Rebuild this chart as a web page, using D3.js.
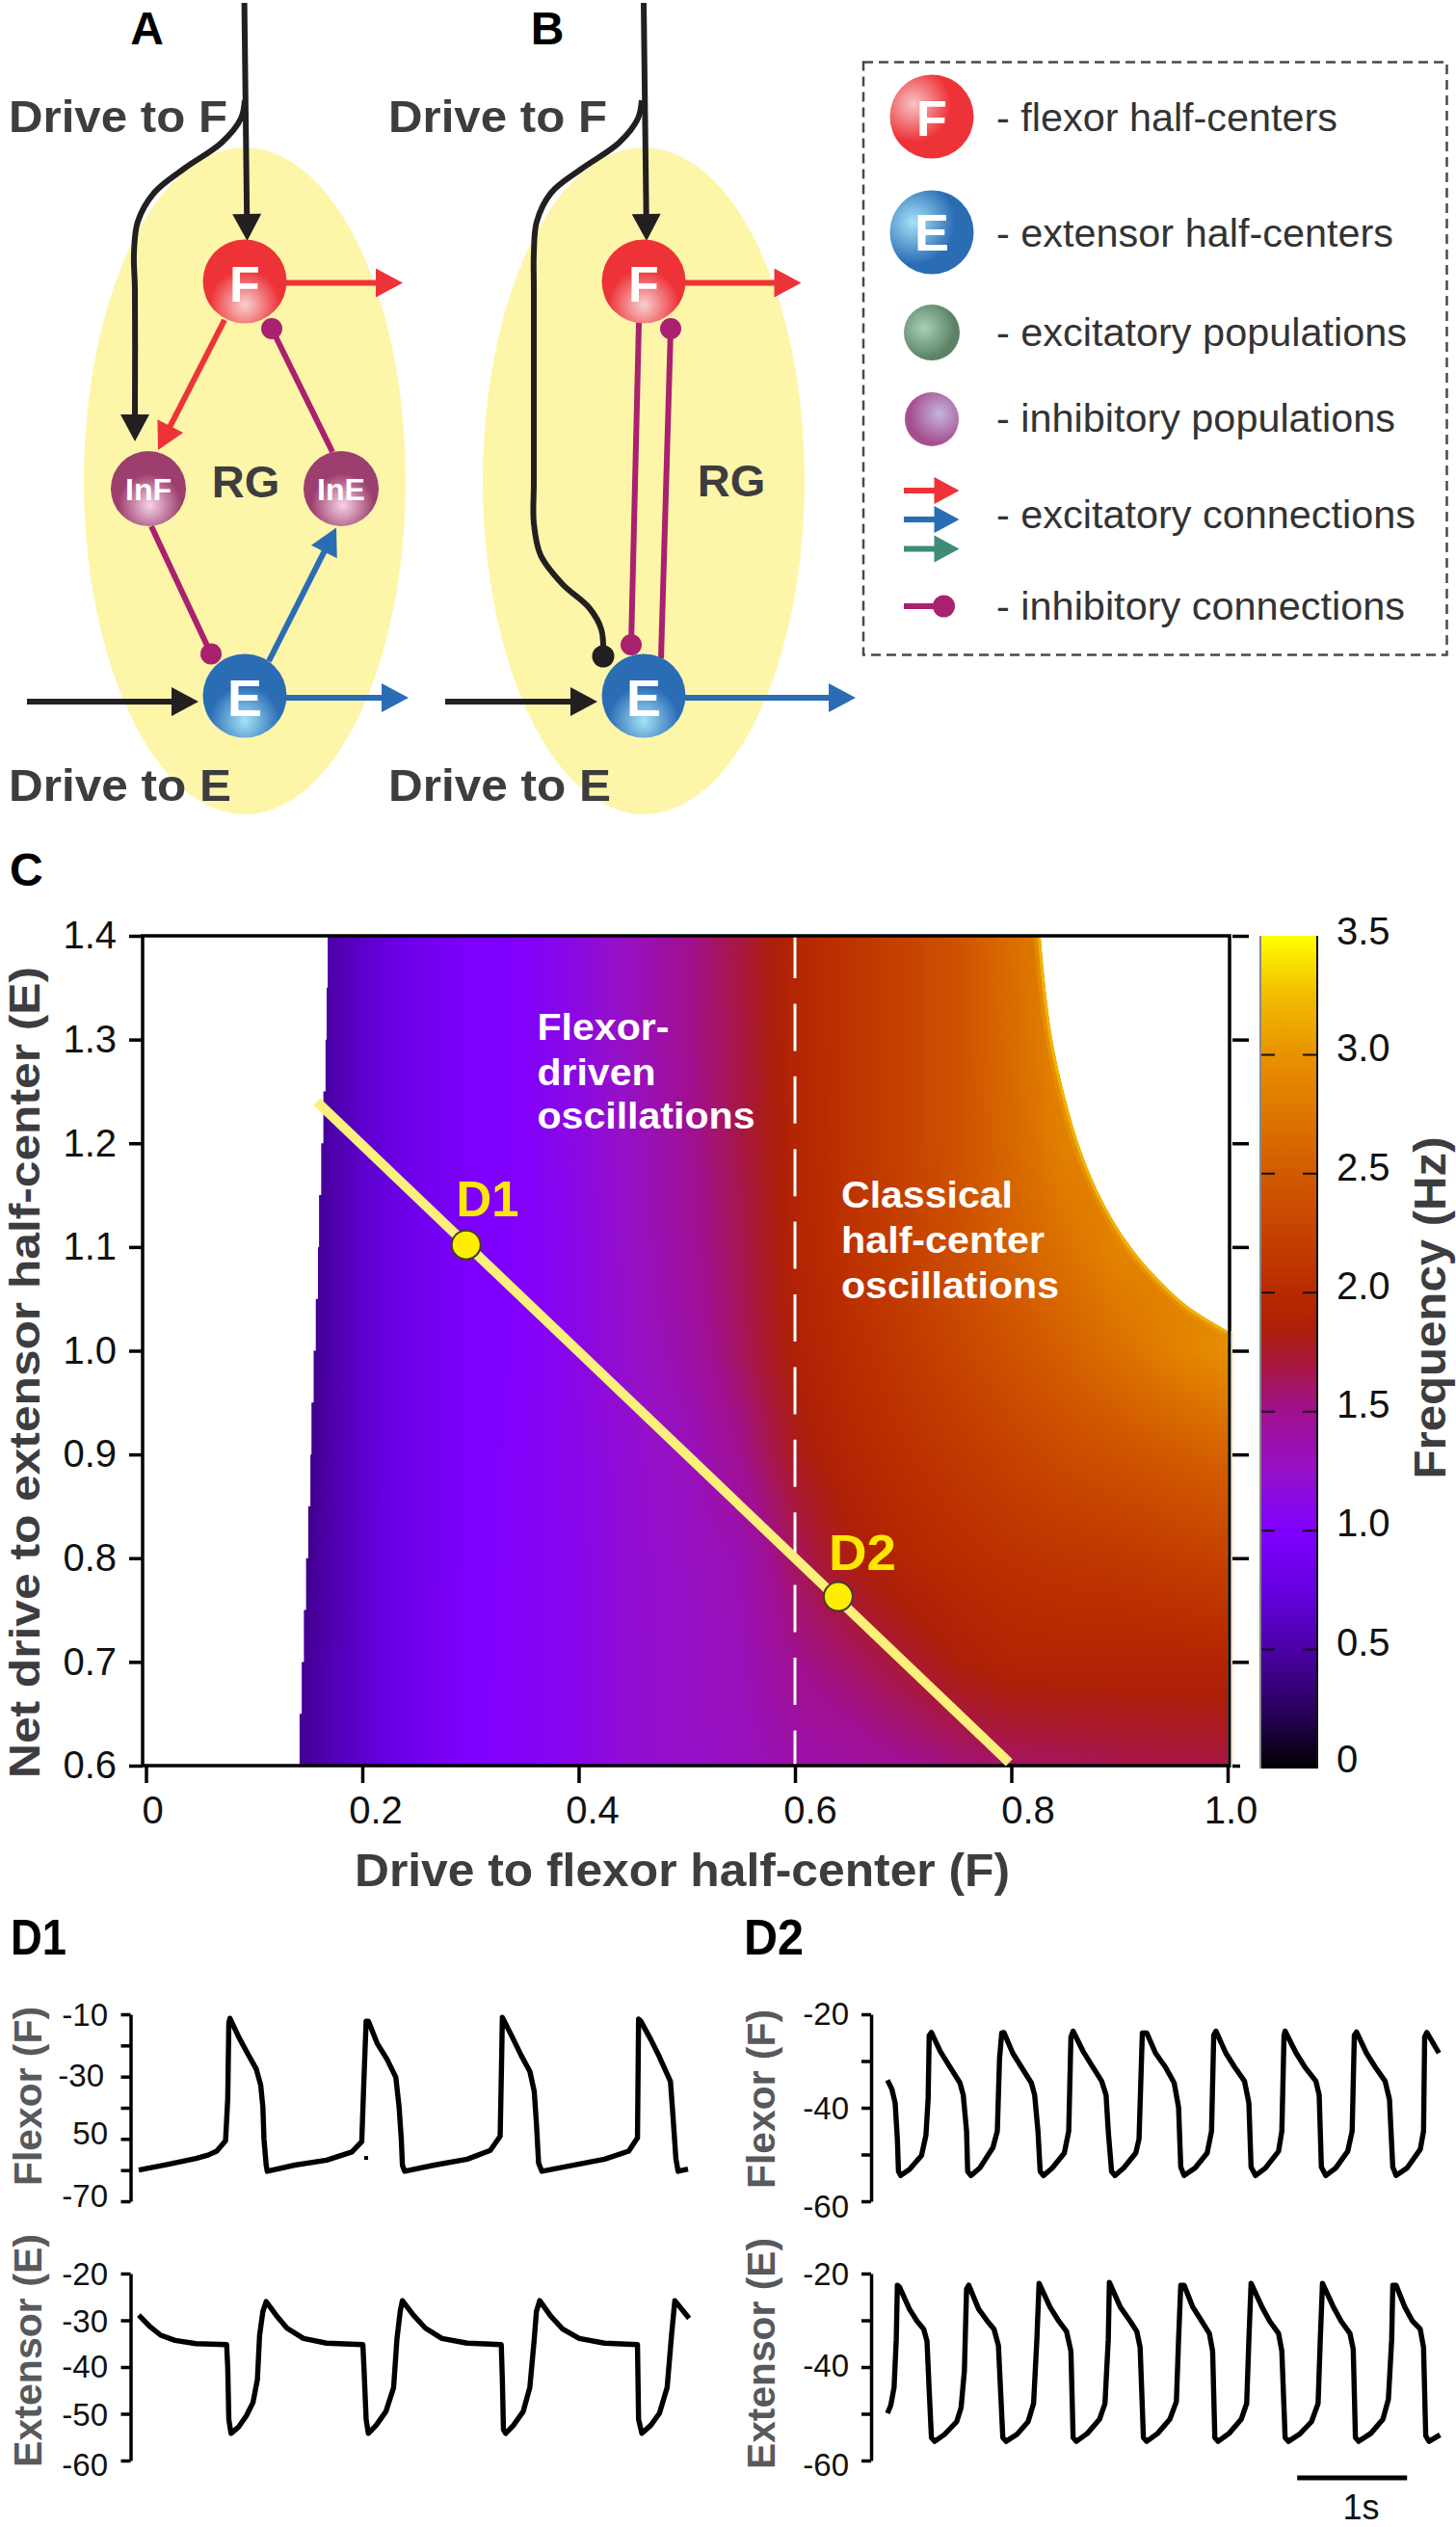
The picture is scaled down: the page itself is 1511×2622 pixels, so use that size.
<!DOCTYPE html>
<html>
<head>
<meta charset="utf-8">
<script src="https://cdn.jsdelivr.net/npm/d3@7"></script>
<style>
  body { margin: 0; background: #fff; }
  svg { display: block; font-family: "Liberation Sans", Arial, sans-serif; }
</style>
</head>
<body>
<svg id="chart" width="1511" height="2622"></svg>
<script>
// panel C: frequency (Hz), rows top to bottom, null = no oscillation
const freqX = [0.15, 0.20, 0.25, 0.30, 0.35, 0.40, 0.45, 0.50, 0.55, 0.60, 0.65, 0.70, 0.75, 0.80, 0.85, 0.90, 0.95, 1.00];
const freqY = [1.4, 1.3, 1.2, 1.1, 1.0, 0.9, 0.8, 0.7, 0.6];
const freqGrid = [
  [0.40, 0.66, 0.85, 0.97, 1.02, 1.14, 1.30, 1.50, 1.70, 1.95, 2.10, 2.25, 2.42, 2.68, 2.90, null, null, null],
  [0.40, 0.66, 0.85, 0.97, 1.02, 1.14, 1.30, 1.50, 1.68, 1.94, 2.10, 2.25, 2.42, 2.65, 2.90, null, null, null],
  [0.40, 0.66, 0.85, 0.97, 1.02, 1.13, 1.28, 1.47, 1.68, 1.93, 2.10, 2.25, 2.42, 2.62, 2.85, null, null, null],
  [0.40, 0.66, 0.85, 0.97, 1.02, 1.12, 1.27, 1.45, 1.65, 1.92, 2.08, 2.22, 2.38, 2.55, 2.72, 2.88, null, null],
  [0.40, 0.66, 0.85, 0.97, 1.02, 1.12, 1.25, 1.40, 1.62, 1.88, 2.02, 2.15, 2.28, 2.42, 2.55, 2.70, 2.85, 2.97],
  [0.40, 0.67, 0.85, 0.98, 1.03, 1.11, 1.21, 1.30, 1.50, 1.78, 1.95, 2.05, 2.15, 2.25, 2.35, 2.42, 2.50, 2.58],
  [0.42, 0.68, 0.85, 0.98, 1.03, 1.10, 1.20, 1.27, 1.35, 1.62, 1.82, 1.95, 2.02, 2.08, 2.12, 2.15, 2.20, 2.25],
  [0.45, 0.68, 0.85, 0.99, 1.03, 1.10, 1.20, 1.26, 1.32, 1.50, 1.60, 1.72, 1.85, 1.92, 1.93, 1.92, 1.92, 1.93],
  [0.45, 0.68, 0.85, 1.00, 1.03, 1.10, 1.20, 1.25, 1.30, 1.38, 1.42, 1.48, 1.55, 1.60, 1.62, 1.65, 1.67, 1.68]
];
// edges of the oscillating region
const leftEdgeY = [1.4, 1.35, 1.3, 1.25, 1.2, 1.15, 1.1, 1.05, 1.0, 0.95, 0.9, 0.85, 0.8, 0.75, 0.7, 0.65, 0.6];
const leftEdgeX = [0.170, 0.168, 0.167, 0.166, 0.164, 0.162, 0.160, 0.159, 0.157, 0.155, 0.153, 0.152, 0.150, 0.148, 0.146, 0.144, 0.142];
const rightEdgeX = [1.0, 0.967, 0.934, 0.905, 0.884, 0.865, 0.850, 0.838, 0.831, 0.827];
const rightEdgeY = [1.019, 1.040, 1.071, 1.108, 1.145, 1.191, 1.243, 1.299, 1.354, 1.40];

const colorStops = [0, 0.25, 0.5, 0.75, 1.0, 1.25, 1.5, 1.7, 1.85, 2.0, 2.5, 3.0, 3.25, 3.5];
const colorValues = ['#000000', '#2a0060', '#4b00a6', '#6600e0', '#8000ff', '#9510c8', '#a01090', '#a8183c', '#ad1f08', '#b82a00', '#d25a00', '#e89200', '#f2bc00', '#ffff00'];

const mapXTicks = [0, 0.2, 0.4, 0.6, 0.8, 1.0];
const mapXLabels = ['0', '0.2', '0.4', '0.6', '0.8', '1.0'];
const mapYTicks = [1.4, 1.3, 1.2, 1.1, 1.0, 0.9, 0.8, 0.7, 0.6];
const barTicks = [3.5, 3.0, 2.5, 2.0, 1.5, 1.0, 0.5, 0];
const barLabels = ['3.5', '3.0', '2.5', '2.0', '1.5', '1.0', '0.5', '0'];

const diagonalX = [0.158, 0.798];
const diagonalY = [1.24, 0.603];
const pointNames = ['D1', 'D2'];
const pointX = [0.296, 0.640];
const pointY = [1.102, 0.763];

// panels D: time in s, voltage in mV
const d1FlexorT = [0, 0.27, 0.52, 0.63, 0.71, 0.79, 0.81, 0.82, 0.83, 0.91, 0.99, 1.07, 1.11, 1.13, 1.14, 1.16, 1.17, 1.42, 1.71, 1.94, 2.03, 2.05, 2.07, 2.09, 2.17, 2.26, 2.34, 2.37, 2.39, 2.40, 2.42, 2.69, 2.99, 3.20, 3.29, 3.30, 3.31, 3.40, 3.48, 3.56, 3.60, 3.62, 3.64, 3.67, 3.92, 4.24, 4.46, 4.54, 4.55, 4.57, 4.66, 4.74, 4.84, 4.86, 4.89, 4.91, 5.00];
const d1FlexorV = [-60.0, -58.1, -56.3, -55.2, -53.9, -50.6, -37.2, -12.8, -11.3, -17.3, -22.5, -27.6, -32.7, -39.8, -50.1, -58.4, -60.4, -58.4, -56.8, -54.2, -50.9, -30.8, -12.2, -12.2, -19.3, -24.4, -30.2, -39.8, -50.1, -58.4, -60.4, -58.4, -56.5, -53.7, -49.1, -30.8, -11.0, -17.3, -23.1, -28.3, -34.7, -45.0, -57.8, -60.4, -58.7, -56.5, -53.9, -49.7, -11.5, -12.2, -18.0, -23.7, -31.5, -41.1, -56.5, -60.4, -59.7];
const d1ExtensorT = [0, 0.10, 0.20, 0.33, 0.52, 0.80, 0.81, 0.82, 0.84, 0.91, 0.98, 1.04, 1.08, 1.10, 1.13, 1.16, 1.25, 1.35, 1.50, 1.71, 2.04, 2.05, 2.07, 2.09, 2.16, 2.25, 2.32, 2.35, 2.38, 2.40, 2.50, 2.61, 2.76, 2.99, 3.30, 3.31, 3.32, 3.34, 3.41, 3.50, 3.56, 3.60, 3.62, 3.65, 3.75, 3.86, 4.01, 4.24, 4.54, 4.55, 4.58, 4.66, 4.74, 4.81, 4.85, 4.88, 5.01];
const d1ExtensorV = [-28.9, -31.3, -33.2, -34.3, -35.0, -35.2, -40.1, -51.2, -54.2, -52.8, -50.4, -47.6, -42.7, -33.2, -28.1, -26.0, -28.9, -31.7, -33.9, -34.9, -35.2, -40.1, -51.2, -54.2, -52.5, -49.5, -44.4, -34.1, -28.1, -25.8, -28.9, -31.7, -33.9, -34.9, -35.2, -42.7, -53.4, -54.2, -52.5, -49.5, -44.4, -34.1, -28.1, -25.8, -29.1, -31.9, -33.9, -34.9, -35.2, -51.2, -54.2, -52.5, -49.9, -44.4, -33.2, -25.8, -29.6];
const d2FlexorT = [0, 0.04, 0.07, 0.09, 0.10, 0.12, 0.20, 0.31, 0.35, 0.37, 0.38, 0.40, 0.48, 0.57, 0.66, 0.69, 0.72, 0.73, 0.76, 0.84, 0.96, 1.00, 1.02, 1.04, 1.06, 1.14, 1.23, 1.31, 1.34, 1.37, 1.39, 1.42, 1.50, 1.61, 1.65, 1.67, 1.69, 1.78, 1.87, 1.95, 1.99, 2.01, 2.04, 2.07, 2.15, 2.26, 2.29, 2.32, 2.36, 2.44, 2.53, 2.61, 2.65, 2.67, 2.70, 2.80, 2.91, 2.95, 2.97, 2.99, 3.08, 3.16, 3.25, 3.29, 3.31, 3.35, 3.44, 3.56, 3.59, 3.61, 3.62, 3.72, 3.80, 3.90, 3.93, 3.95, 3.99, 4.08, 4.19, 4.23, 4.25, 4.27, 4.36, 4.44, 4.53, 4.57, 4.60, 4.63, 4.73, 4.85, 4.88, 4.89, 4.91, 5.02];
const d2FlexorV = [-34.1, -36.0, -39.0, -46.7, -53.6, -54.5, -53.2, -50.2, -45.9, -38.2, -24.5, -23.9, -27.9, -31.3, -34.7, -37.3, -45.0, -53.6, -54.5, -52.9, -48.5, -45.0, -29.6, -24.0, -23.9, -28.3, -31.7, -34.7, -37.3, -45.0, -53.6, -54.5, -52.9, -49.7, -45.0, -24.9, -23.6, -27.9, -31.3, -34.3, -37.3, -45.0, -53.6, -54.5, -52.9, -49.7, -46.7, -24.0, -24.0, -28.3, -31.3, -34.7, -39.9, -52.7, -54.5, -52.9, -49.7, -45.0, -24.5, -23.6, -28.3, -31.3, -34.3, -39.0, -52.7, -54.5, -52.9, -49.3, -45.0, -24.5, -23.6, -28.3, -31.3, -34.3, -37.3, -52.7, -54.5, -52.9, -49.3, -45.0, -24.5, -23.8, -28.3, -31.3, -34.3, -38.2, -52.7, -54.5, -52.9, -48.9, -45.0, -24.9, -23.9, -28.3];
const d2ExtensorT = [0, 0.03, 0.06, 0.08, 0.09, 0.11, 0.20, 0.27, 0.33, 0.36, 0.38, 0.40, 0.43, 0.52, 0.63, 0.67, 0.70, 0.72, 0.74, 0.83, 0.91, 0.97, 1.01, 1.03, 1.05, 1.08, 1.18, 1.28, 1.33, 1.36, 1.38, 1.48, 1.56, 1.63, 1.67, 1.69, 1.72, 1.82, 1.93, 1.98, 2.01, 2.02, 2.12, 2.21, 2.27, 2.30, 2.33, 2.36, 2.46, 2.57, 2.63, 2.65, 2.67, 2.70, 2.78, 2.85, 2.93, 2.96, 2.98, 3.01, 3.11, 3.22, 3.27, 3.29, 3.31, 3.41, 3.48, 3.56, 3.59, 3.62, 3.65, 3.75, 3.86, 3.92, 3.94, 3.96, 4.06, 4.13, 4.21, 4.24, 4.26, 4.29, 4.40, 4.51, 4.56, 4.59, 4.60, 4.63, 4.71, 4.78, 4.85, 4.88, 4.90, 4.93, 5.03];
const d2ExtensorV = [-49.9, -48.2, -44.4, -34.1, -22.5, -22.9, -27.6, -30.2, -31.9, -34.5, -45.2, -55.1, -55.9, -54.4, -51.7, -48.7, -40.9, -23.3, -22.5, -27.6, -30.2, -31.9, -35.4, -45.2, -55.1, -55.9, -54.4, -51.7, -47.8, -34.1, -22.1, -27.2, -30.2, -32.4, -36.6, -55.1, -55.9, -54.2, -51.2, -47.8, -34.1, -21.9, -27.2, -30.2, -32.4, -35.8, -55.1, -55.9, -54.2, -51.2, -47.4, -34.1, -22.5, -22.5, -27.2, -29.8, -32.8, -36.6, -55.1, -55.9, -54.2, -51.2, -47.8, -34.1, -22.1, -27.2, -30.2, -32.8, -36.6, -55.1, -55.9, -54.4, -51.7, -47.8, -34.1, -22.1, -27.2, -30.2, -32.8, -36.2, -55.1, -55.9, -54.2, -51.2, -46.9, -34.1, -22.5, -22.5, -27.2, -30.2, -31.9, -35.8, -54.7, -55.9, -54.5];

const legendLabels = ['- flexor half-centers', '- extensor half-centers', '- excitatory populations', '- inhibitory populations', '- excitatory connections', '- inhibitory connections'];

const RED = '#ee3338', BLUE = '#2a6db5', TEAL = '#3f8a78', MAGENTA = '#a9216f', BLACK = '#231f20', GREY = '#3d3d3f';

const svg = d3.select('#chart');
const defs = svg.append('defs');

function sphereGradient(id, cx, cy, r, light, base) {
  const g = defs.append('radialGradient').attr('id', id)
    .attr('cx', cx).attr('cy', cy).attr('r', r);
  g.append('stop').attr('offset', '0%').attr('stop-color', light);
  g.append('stop').attr('offset', '100%').attr('stop-color', base);
}
sphereGradient('gF', 0.5, 0.78, 0.42, '#f8d0d0', RED);
sphereGradient('gE', 0.5, 0.8, 0.42, '#a6e2f8', BLUE);
sphereGradient('gI', 0.52, 0.72, 0.42, '#f8d2e6', '#9c3f6e');
sphereGradient('gLF', 0.28, 0.35, 0.45, '#f6c4c4', RED);
sphereGradient('gLE', 0.28, 0.38, 0.5, '#a6e2f8', BLUE);
sphereGradient('gLG', 0.36, 0.42, 0.55, '#a6d2b6', '#5c8265');
sphereGradient('gLP', 0.64, 0.4, 0.55, '#c3b6dd', '#a64f90');

function label(x, y, str, size, opts = {}) {
  const t = svg.append('text').attr('x', x).attr('y', y).text(str)
    .attr('font-size', size)
    .attr('font-weight', opts.weight || 'bold')
    .attr('fill', opts.fill || GREY)
    .attr('text-anchor', opts.anchor || 'start');
  if (opts.length) t.attr('textLength', opts.length).attr('lengthAdjust', 'spacingAndGlyphs');
  if (opts.rotate) t.attr('transform', `rotate(-90,${x},${y})`);
  return t;
}

function node(cx, cy, r, grad, str, size, base) {
  svg.append('circle').attr('cx', cx).attr('cy', cy).attr('r', r).attr('fill', `url(#${grad})`);
  if (str) label(cx, base, str, size, { fill: '#fff', anchor: 'middle' });
}

const wire = d3.line().curve(d3.curveCatmullRom.alpha(0.5));

// line through pts, ending in a triangular head at the last point
function arrow(pts, color, headLen = 28, headHalf = 15) {
  const a = pts[pts.length - 2], b = pts[pts.length - 1];
  const len = Math.hypot(b[0] - a[0], b[1] - a[1]);
  const ux = (b[0] - a[0]) / len, uy = (b[1] - a[1]) / len;
  const bx = b[0] - ux * headLen, by = b[1] - uy * headLen;
  svg.append('path').attr('d', wire([...pts.slice(0, -1), [bx + ux, by + uy]]))
    .attr('fill', 'none').attr('stroke', color).attr('stroke-width', 6);
  svg.append('path')
    .attr('d', `M${b}L${bx - uy * headHalf},${by + ux * headHalf}L${bx + uy * headHalf},${by - ux * headHalf}Z`)
    .attr('fill', color);
}

function inhibit(pts, color, r = 11) {
  const end = pts[pts.length - 1];
  svg.append('path').attr('d', wire(pts)).attr('fill', 'none').attr('stroke', color).attr('stroke-width', 6);
  svg.append('circle').attr('cx', end[0]).attr('cy', end[1]).attr('r', r).attr('fill', color);
}

// ---- panels A and B
[254, 668].forEach(cx => {
  svg.append('ellipse').attr('cx', cx).attr('cy', 499).attr('rx', 167).attr('ry', 346).attr('fill', '#fdf6a9');
});

label(152.5, 46, 'A', 48, { fill: '#000', anchor: 'middle' });
label(568, 46, 'B', 48, { fill: '#000', anchor: 'middle' });
label(9, 137, 'Drive to F', 47, { length: 227 });
label(9, 831, 'Drive to E', 47, { length: 231 });
label(403, 137, 'Drive to F', 47, { length: 227 });
label(403, 831, 'Drive to E', 47, { length: 231 });
label(255, 515.5, 'RG', 47, { anchor: 'middle' });
label(759, 514.5, 'RG', 47, { anchor: 'middle' });

// A
arrow([[253.6, 3], [256.5, 250]], BLACK);
arrow([[254, 104], [250, 123], [230, 148], [191, 175], [160, 200], [143, 230], [139, 263], [140, 300], [140, 458]], BLACK);
arrow([[297, 293.5], [418, 293.5]], RED);
arrow([[233, 332], [164, 467]], RED);
inhibit([[345, 469], [282, 341]], MAGENTA);
inhibit([[157, 546], [219, 678.5]], MAGENTA);
arrow([[279, 686], [349, 547.5]], BLUE);
arrow([[297, 724], [424, 724]], BLUE);
arrow([[28, 728], [206, 728]], BLACK);
node(254, 292, 43.5, 'gF', 'F', 52, 312.5);
node(254, 722, 43.5, 'gE', 'E', 54, 743);
node(154, 507, 39, 'gI', 'InF', 32, 519);
node(354, 507, 39, 'gI', 'InE', 32, 519);

// B
arrow([[668, 3], [671, 250]], BLACK);
inhibit([[666, 104], [662, 123], [642.5, 148], [603, 175.5], [572, 200], [557, 230], [554, 263], [554, 300], [554, 500], [554, 543], [561, 576], [583.6, 606], [611.7, 631], [624, 653], [626, 681]], BLACK, 11.5);
inhibit([[663, 335], [655, 669]], MAGENTA);
inhibit([[686, 683], [696, 341]], MAGENTA);
arrow([[711, 293.5], [831.5, 293.5]], RED);
arrow([[711, 724], [888, 724]], BLUE);
arrow([[462, 728], [620, 728]], BLACK);
node(668, 292, 43.5, 'gF', 'F', 52, 312.5);
node(668, 722, 43.5, 'gE', 'E', 54, 743);

// ---- legend
svg.append('rect').attr('x', 896).attr('y', 64.5).attr('width', 605.5).attr('height', 615)
  .attr('fill', 'none').attr('stroke', '#4a4a4a').attr('stroke-width', 2.5).attr('stroke-dasharray', '10 6');
node(967, 121, 43.5, 'gLF', 'F', 52, 141);
node(967, 241, 43.5, 'gLE', 'E', 54, 260);
node(967, 345, 29, 'gLG');
node(967, 435, 28, 'gLP');
const legendBase = [136, 256, 358.5, 448, 548, 643];
const legendLen = [354, 412, 426, 414, 435, 424];
legendLabels.forEach((s, i) => label(1034, legendBase[i], s, 40, { weight: 'normal', fill: '#333', length: legendLen[i] }));
[[509, RED], [539, BLUE], [569.5, TEAL]].forEach(([yy, c]) => arrow([[938, yy], [995.5, yy]], c, 26, 14));
inhibit([[938, 629], [979.5, 629]], MAGENTA, 11.5);

// ---- panel C
const x = d3.scaleLinear().domain([0, 1]).range([151.5, 1274]);
const y = d3.scaleLinear().domain([0.6, 1.4]).range([1832, 971]);
const barY = d3.scaleLinear().domain([0, 3.5]).range([1835, 971]);
const color = d3.scaleLinear().domain(colorStops).range(colorValues).clamp(true);

label(10, 918.5, 'C', 48, { fill: '#000' });

// raster of the frequency table on a canvas, one canvas pixel per screen pixel
const plotL = 148, plotT = 971, plotW = 1128, plotH = 861;
const canvas = document.createElement('canvas');
canvas.width = plotW;
canvas.height = plotH;
const ctx = canvas.getContext('2d');
const filled = freqGrid.map(row => row.map((v, i) => {
  if (v !== null) return v;
  const near = d3.least(row.map((w, j) => [w, j]).filter(d => d[0] !== null), d => Math.abs(d[1] - i));
  return near[0];
}));
const dx = freqX[1] - freqX[0];
const dy = freqY[0] - freqY[1];
const img = ctx.createImageData(plotW, plotH);
for (let py = 0; py < plotH; py++) {
  const fr = Math.max(0, Math.min(freqY.length - 1.001, (freqY[0] - y.invert(plotT + py)) / dy));
  const r0 = Math.floor(fr), rt = fr - r0;
  for (let px = 0; px < plotW; px++) {
    const fc = Math.max(0, Math.min(freqX.length - 1.001, (x.invert(plotL + px) - freqX[0]) / dx));
    const c0 = Math.floor(fc), ct = fc - c0;
    const v = (filled[r0][c0] * (1 - ct) + filled[r0][c0 + 1] * ct) * (1 - rt)
      + (filled[r0 + 1][c0] * (1 - ct) + filled[r0 + 1][c0 + 1] * ct) * rt;
    const c = d3.rgb(color(v));
    const k = (py * plotW + px) * 4;
    img.data[k] = c.r; img.data[k + 1] = c.g; img.data[k + 2] = c.b; img.data[k + 3] = 255;
  }
}
ctx.putImageData(img, 0, 0);

const leftLine = d3.line().curve(d3.curveStepAfter).x(i => x(leftEdgeX[i])).y(i => y(leftEdgeY[i]));
const rightLine = d3.line().curve(d3.curveMonotoneY).x(i => x(rightEdgeX[i])).y(i => y(rightEdgeY[i]));
const rightPath = rightLine(d3.range(rightEdgeX.length));
const regionPath = leftLine(d3.range(leftEdgeX.length))
  + `L${x(1)},${y(0.6)}` + rightPath.replace('M', 'L') + 'Z';
defs.append('clipPath').attr('id', 'region').append('path').attr('d', regionPath);

const heat = svg.append('g').attr('clip-path', 'url(#region)');
heat.append('image').attr('x', plotL).attr('y', plotT).attr('width', plotW).attr('height', plotH)
  .attr('href', canvas.toDataURL());
// bright rim along the upper edge
heat.append('path').attr('d', rightPath).attr('fill', 'none')
  .attr('stroke', color(3.05)).attr('stroke-width', 14).attr('stroke-opacity', 0.5);
heat.append('path').attr('d', rightPath).attr('fill', 'none')
  .attr('stroke', color(3.2)).attr('stroke-width', 6);

svg.append('line').attr('x1', x(0.6)).attr('x2', x(0.6)).attr('y1', y(1.4)).attr('y2', y(0.6))
  .attr('stroke', '#fff').attr('stroke-width', 3)
  .attr('stroke-dasharray', '49 26.4').attr('stroke-dashoffset', 5);

svg.append('rect').attr('x', plotL).attr('y', plotT).attr('width', plotW).attr('height', plotH)
  .attr('fill', 'none').attr('stroke', '#000').attr('stroke-width', 3.5);
// pale strip right of the frame, below the top of the orange area
svg.append('line').attr('x1', 1278.5).attr('x2', 1278.5).attr('y1', y(1.019)).attr('y2', y(0.6))
  .attr('stroke', '#fbe3c8').attr('stroke-width', 2);

// axes
const xAxis = svg.append('g').attr('transform', `translate(0,${plotT + plotH})`)
  .call(d3.axisBottom(x).tickValues(mapXTicks).tickSize(18).tickPadding(14)
    .tickFormat((d, i) => mapXLabels[i]));
const xLabelShift = [6.5, 13.5, 14, 15.5, 17, 3];
xAxis.selectAll('text').attr('font-size', 40).attr('font-family', '"Liberation Sans"').attr('fill', '#111')
  .attr('dx', (d, i) => xLabelShift[i]);
const yAxis = svg.append('g').attr('transform', `translate(${plotL},0)`)
  .call(d3.axisLeft(y).tickValues(mapYTicks).tickSize(14).tickPadding(13).tickFormat(d3.format('.1f')));
yAxis.selectAll('text').attr('font-size', 40).attr('font-family', '"Liberation Sans"').attr('fill', '#111');
const yRight = svg.append('g').attr('transform', 'translate(1279,0)')
  .call(d3.axisRight(y).tickValues(mapYTicks).tickSize(17).tickFormat(''));
yRight.selectAll('.tick line').filter(d => d === 0.6).attr('x2', 8);
[xAxis, yAxis, yRight].forEach(a => {
  a.select('.domain').remove();
  a.selectAll('.tick line').attr('stroke', '#000').attr('stroke-width', 3.5);
});

label(708, 1957, 'Drive to flexor half-center (F)', 48, { anchor: 'middle', length: 680 });
label(41, 1424, 'Net drive to extensor half-center (E)', 45, { anchor: 'middle', length: 842, rotate: true });

// colour bar
const barGrad = defs.append('linearGradient').attr('id', 'barGrad').attr('x1', 0).attr('x2', 0).attr('y1', 1).attr('y2', 0);
colorStops.forEach((s, i) => {
  barGrad.append('stop').attr('offset', s / 3.5).attr('stop-color', colorValues[i]);
});
svg.append('rect').attr('x', 1309).attr('y', barY(3.5)).attr('width', 57).attr('height', barY(0) - barY(3.5))
  .attr('fill', 'url(#barGrad)');
svg.append('line').attr('x1', 1308).attr('x2', 1308).attr('y1', barY(3.5)).attr('y2', barY(0)).attr('stroke', '#888').attr('stroke-width', 2);
svg.append('line').attr('x1', 1367).attr('x2', 1367).attr('y1', barY(3.5)).attr('y2', barY(0)).attr('stroke', '#111').attr('stroke-width', 2);
svg.append('g').selectAll('path').data(barTicks.slice(1, -1)).join('path')
  .attr('d', d => `M1309,${barY(d)}h14M1352,${barY(d)}h14`)
  .attr('stroke', '#111').attr('stroke-width', 2);
const barLabelShift = [-5, -7, -7, -7, -8, -8, -8, -10];
barTicks.forEach((d, i) => {
  label(1387, barY(d) + barLabelShift[i] + 14, barLabels[i], 40, { weight: 'normal', fill: '#111' });
});
label(1500, 1357, 'Frequency (Hz)', 46, { anchor: 'middle', length: 355, rotate: true });

// trajectory and points
svg.append('line').attr('x1', x(diagonalX[0])).attr('y1', y(diagonalY[0]))
  .attr('x2', x(diagonalX[1])).attr('y2', y(diagonalY[1]))
  .attr('stroke', '#fbf07a').attr('stroke-width', 10);
pointNames.forEach((n, i) => {
  svg.append('circle').attr('cx', x(pointX[i])).attr('cy', y(pointY[i])).attr('r', 15)
    .attr('fill', '#ffee00').attr('stroke', '#443c2c').attr('stroke-width', 2);
});
label(473.5, 1262, pointNames[0], 52, { fill: '#ffe800', length: 65 });
label(860, 1628.5, pointNames[1], 52, { fill: '#ffe800', length: 70 });

// region names
[['Flexor-', 1078.5], ['driven', 1125.5], ['oscillations', 1171]].forEach(([s, b]) =>
  label(557.5, b, s, 38, { fill: '#fff', length: s === 'oscillations' ? 226 : s === 'driven' ? 123 : 137 }));
[['Classical', 1253], ['half-center', 1300], ['oscillations', 1346.5]].forEach(([s, b]) =>
  label(873, b, s, 38, { fill: '#fff', length: s === 'oscillations' ? 226 : s === 'Classical' ? 178 : 211 }));

// ---- panels D
const d1Time = d3.scaleLinear().domain([0, 5]).range([144, 714]);
const d2Time = d3.scaleLinear().domain([0, 5]).range([921, 1491]);
const traceLine = (tScale, vScale, times) =>
  d3.line().x((d, i) => tScale(times[i])).y(d => vScale(d));

function trace(cfg) {
  const v = d3.scaleLinear().domain(cfg.domain).range(cfg.range);
  const ax = svg.append('g').attr('transform', `translate(${cfg.axisX},0)`)
    .call(d3.axisLeft(v).tickValues(cfg.ticks).tickSize(10).tickSizeOuter(0).tickFormat(''));
  ax.select('.domain').attr('stroke', '#000').attr('stroke-width', 3.5);
  ax.selectAll('.tick line').attr('stroke', '#000').attr('stroke-width', 3.5);
  ax.selectAll('.tick text').remove();
  cfg.labels.forEach((s, i) => {
    label(cfg.labelX[i], v(cfg.labelAt[i]) + cfg.labelShift[i] + 12, s, 33, { weight: 'normal', fill: '#111', anchor: 'end' });
  });
  svg.append('path').datum(cfg.values).attr('d', traceLine(cfg.time, v, cfg.times)(cfg.values))
    .attr('fill', 'none').attr('stroke', '#000').attr('stroke-width', 5.4).attr('stroke-linejoin', 'round');
  return v;
}

label(11, 2028, 'D1', 51, { fill: '#000', length: 58 });
label(772, 2028, 'D2', 51, { fill: '#000', length: 62 });

const d1F = trace({
  domain: [-10, -70], range: [2090, 2284], ticks: [-10, -20, -30, -40, -50, -60, -70], axisX: 135.5,
  labels: ['-10', '-30', '50', '-70'], labelAt: [-10, -30, -50, -70], labelX: [112, 108, 112, 112], labelShift: [0, -2, -6, -6],
  time: d1Time, times: d1FlexorT, values: d1FlexorV
});
trace({
  domain: [-20, -60], range: [2359, 2553], ticks: [-20, -30, -40, -50, -60], axisX: 135.5,
  labels: ['-20', '-30', '-40', '-50', '-60'], labelAt: [-20, -30, -40, -50, -60], labelX: [112, 112, 112, 112, 112], labelShift: [0, 0, -1, 0, 4],
  time: d1Time, times: d1ExtensorT, values: d1ExtensorV
});
trace({
  domain: [-20, -60], range: [2090, 2284], ticks: [-20, -30, -40, -50, -60], axisX: 904,
  labels: ['-20', '-40', '-60'], labelAt: [-20, -40, -60], labelX: [881, 881, 881], labelShift: [-1, 0, 5],
  time: d2Time, times: d2FlexorT, values: d2FlexorV
});
trace({
  domain: [-20, -60], range: [2359, 2553], ticks: [-20, -30, -40, -50, -60], axisX: 904,
  labels: ['-20', '-40', '-60'], labelAt: [-20, -40, -60], labelX: [881, 881, 881], labelShift: [0, -2, 4],
  time: d2Time, times: d2ExtensorT, values: d2ExtensorV
});

// stray mark in the second D1 flexor interval
svg.append('rect').attr('x', d1Time(2.07) - 2).attr('y', d1F(-56.1) - 2).attr('width', 4).attr('height', 4);

label(43, 2175, 'Flexor (F)', 41, { fill: '#58595b', anchor: 'middle', length: 186, rotate: true });
label(43, 2439, 'Extensor (E)', 41, { fill: '#58595b', anchor: 'middle', length: 242, rotate: true });
label(803.5, 2178, 'Flexor (F)', 41, { fill: '#58595b', anchor: 'middle', length: 186, rotate: true });
label(803.5, 2442, 'Extensor (E)', 41, { fill: '#58595b', anchor: 'middle', length: 240, rotate: true });

// scale bar, 1 s
svg.append('line').attr('x1', d2Time(3.73)).attr('x2', d2Time(4.73)).attr('y1', 2571).attr('y2', 2571)
  .attr('stroke', '#000').attr('stroke-width', 5);
label(1412.5, 2614, '1s', 36, { weight: 'normal', fill: '#111', anchor: 'middle' });
</script>
</body>
</html>
